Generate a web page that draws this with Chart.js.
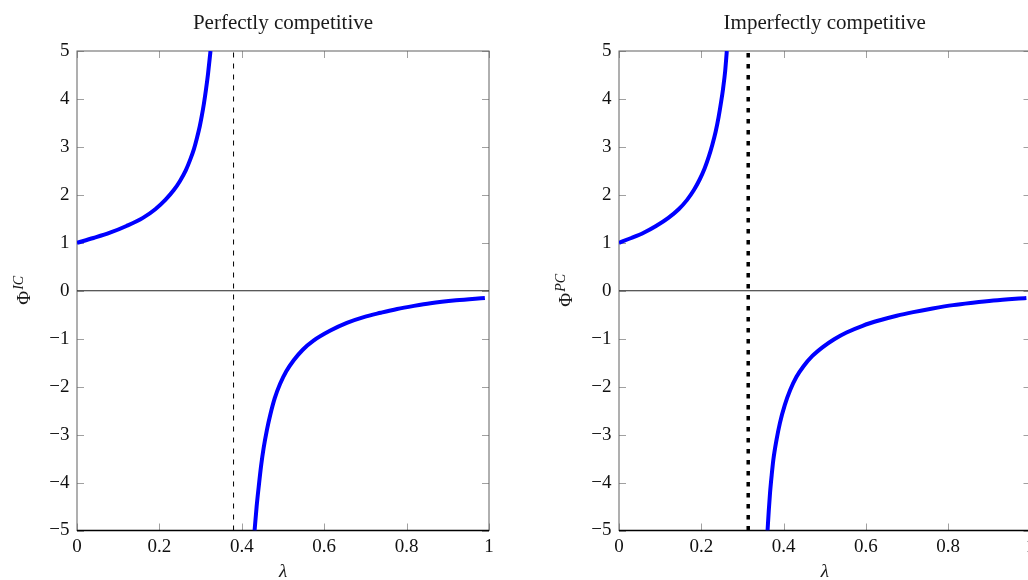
<!DOCTYPE html>
<html>
<head>
<meta charset="utf-8">
<script src="https://cdn.jsdelivr.net/npm/chart.js@4.4.1/dist/chart.umd.min.js"></script>
<style>
  body { margin: 0; width: 1028px; height: 580px; overflow: hidden; background: #fff; position: relative; }
  canvas { position: absolute; top: 0; }
  #pc { left: 0; }
  #ic { left: 540px; }
</style>
</head>
<body>
<canvas id="pc" width="540" height="580"></canvas>
<canvas id="ic" width="540" height="580"></canvas>
<script>
// tick values
const xTicks = [0, 0.2, 0.4, 0.6, 0.8, 1];
const yTicks = [-5, -4, -3, -2, -1, 0, 1, 2, 3, 4, 5];

// left panel: perfectly competitive (Phi^IC)
const pcLamUp  = [0, 0.04, 0.08, 0.12, 0.16, 0.19, 0.215, 0.235, 0.250, 0.264, 0.275, 0.284, 0.291, 0.298, 0.303, 0.308, 0.313, 0.318, 0.324];
const pcPhiUp  = [1, 1.10, 1.21, 1.35, 1.52, 1.70, 1.90, 2.10, 2.29, 2.51, 2.74, 2.96, 3.18, 3.43, 3.65, 3.90, 4.19, 4.52, 5];
const pcLamLow = [0.431, 0.436, 0.441, 0.447, 0.453, 0.461, 0.469, 0.480, 0.493, 0.508, 0.526, 0.548, 0.574, 0.615, 0.655, 0.696, 0.737, 0.777, 0.818, 0.858, 0.92, 0.99];
const pcPhiLow = [-5, -4.50, -4.09, -3.64, -3.28, -2.90, -2.59, -2.24, -1.94, -1.68, -1.45, -1.23, -1.04, -0.83, -0.67, -0.55, -0.46, -0.38, -0.315, -0.26, -0.20, -0.15];
const pcAsym   = [0.38, 0.38];

// right panel: imperfectly competitive (Phi^PC)
const icLamUp  = [0, 0.03, 0.06, 0.09, 0.12, 0.145, 0.165, 0.182, 0.196, 0.208, 0.218, 0.227, 0.235, 0.242, 0.248, 0.253, 0.258, 0.262];
const icPhiUp  = [1, 1.10, 1.21, 1.35, 1.52, 1.70, 1.89, 2.10, 2.32, 2.55, 2.79, 3.05, 3.32, 3.62, 3.93, 4.22, 4.58, 5];
const icLamLow = [0.361, 0.364, 0.367, 0.371, 0.375, 0.383, 0.391, 0.403, 0.416, 0.431, 0.448, 0.470, 0.496, 0.523, 0.553, 0.592, 0.634, 0.675, 0.715, 0.762, 0.812, 0.860, 0.910, 0.99];
const icPhiLow = [-5, -4.58, -4.22, -3.85, -3.53, -3.10, -2.76, -2.38, -2.07, -1.80, -1.58, -1.36, -1.17, -1.01, -0.87, -0.73, -0.615, -0.52, -0.445, -0.37, -0.30, -0.25, -0.205, -0.15];
const icAsym   = [0.314, 0.314];

const asymPhi = [-5, 5];
const zeroLam = [0, 1];
const zeroPhi = [0, 0];

const serif = '"Liberation Serif", "Times New Roman", serif';
const pts = (xs, ys) => xs.map((x, i) => ({ x: x, y: ys[i] }));

// frame with inward ticks + title / axis labels
const decor = {
  id: 'decor',
  beforeDatasetsDraw(chart, args, opts) {
    const ctx = chart.ctx, a = chart.chartArea;
    const x = chart.scales.x, y = chart.scales.y;
    ctx.save();
    ctx.lineWidth = 1;
    ctx.strokeStyle = '#a0a0a0';
    ctx.beginPath();
    x.ticks.forEach(t => {
      const px = Math.round(x.getPixelForValue(t.value)) + 0.5;
      ctx.moveTo(px, a.bottom); ctx.lineTo(px, a.bottom - 7);
      ctx.moveTo(px, a.top); ctx.lineTo(px, a.top + 7);
    });
    y.ticks.forEach(t => {
      const py = Math.round(y.getPixelForValue(t.value)) + 0.5;
      ctx.moveTo(a.left, py); ctx.lineTo(a.left + 7, py);
      ctx.moveTo(a.right, py); ctx.lineTo(a.right - 7, py);
    });
    ctx.stroke();
    ctx.strokeStyle = '#606060';
    ctx.strokeRect(a.left, a.top, a.right - a.left, a.bottom - a.top);
    ctx.strokeStyle = '#000';
    ctx.lineWidth = 1.5;
    ctx.beginPath();
    ctx.moveTo(a.left, a.bottom); ctx.lineTo(a.right, a.bottom);
    ctx.stroke();
    ctx.restore();
  },
  afterDraw(chart, args, opts) {
    const ctx = chart.ctx, a = chart.chartArea;
    const cx = (a.left + a.right) / 2, cy = (a.top + a.bottom) / 2;
    ctx.save();
    ctx.fillStyle = '#1a1a1a';
    ctx.textAlign = 'center';
    ctx.textBaseline = 'alphabetic';
    ctx.font = '21px ' + serif;
    ctx.fillText(opts.title, cx, 29);
    ctx.font = 'italic 19px ' + serif;
    ctx.fillText('λ', cx, 577);
    // rotated y label with superscript
    ctx.translate(a.left - 47, cy);
    ctx.rotate(-Math.PI / 2);
    ctx.textAlign = 'left';
    ctx.font = '19px ' + serif;
    const w1 = ctx.measureText('Φ').width;
    ctx.font = 'italic 14px ' + serif;
    const w2 = ctx.measureText(opts.sup).width;
    const x0 = -(w1 + w2) / 2;
    ctx.font = '19px ' + serif;
    ctx.fillText('Φ', x0, 0);
    ctx.font = 'italic 14px ' + serif;
    ctx.fillText(opts.sup, x0 + w1 + 1, -7);
    ctx.restore();
  }
};

function makeChart(id, p) {
  const curve = (xs, ys) => ({
    data: pts(xs, ys),
    borderColor: '#0000ff',
    borderWidth: 4,
    borderJoinStyle: 'round',
    cubicInterpolationMode: 'monotone',
    pointRadius: 0
  });
  return new Chart(document.getElementById(id), {
    type: 'line',
    data: {
      datasets: [
        curve(p.lamUp, p.phiUp),
        curve(p.lamLow, p.phiLow),
        {
          data: pts(p.asym, asymPhi),
          borderColor: '#000',
          borderWidth: p.asymWidth,
          borderDash: p.asymDash,
          pointRadius: 0
        },
        {
          data: pts(zeroLam, zeroPhi),
          borderColor: '#222',
          borderWidth: 1,
          pointRadius: 0
        }
      ]
    },
    options: {
      responsive: false,
      animation: false,
      events: [],
      layout: { padding: { left: 0, top: 51, right: p.padRight, bottom: 0 } },
      plugins: {
        legend: { display: false },
        tooltip: { enabled: false },
        title: { display: false },
        decor: { title: p.title, sup: p.sup }
      },
      scales: {
        x: {
          type: 'linear',
          min: 0, max: 1,
          afterBuildTicks: s => { s.ticks = xTicks.map(v => ({ value: v })); },
          afterFit: s => { s.height = 49.5; },
          grid: { display: false, drawTicks: false },
          border: { display: false },
          ticks: {
            padding: 5,
            color: '#111',
            font: { family: serif, size: 19 },
            callback: v => String(Math.round(v * 10) / 10)
          }
        },
        y: {
          type: 'linear',
          min: -5, max: 5,
          afterBuildTicks: s => { s.ticks = yTicks.map(v => ({ value: v })); },
          afterFit: s => { s.width = p.yWidth; },
          grid: { display: false, drawTicks: false },
          border: { display: false },
          ticks: {
            padding: 7.5,
            color: '#111',
            font: { family: serif, size: 19 },
            callback: v => (v < 0 ? '\u2212' + Math.abs(v) : String(v))
          }
        }
      }
    },
    plugins: [decor]
  });
}

makeChart('pc', {
  title: 'Perfectly competitive', sup: 'IC',
  lamUp: pcLamUp, phiUp: pcPhiUp, lamLow: pcLamLow, phiLow: pcPhiLow,
  asym: pcAsym, asymWidth: 1, asymDash: [5, 6],
  yWidth: 77, padRight: 51
});
makeChart('ic', {
  title: 'Imperfectly competitive', sup: 'PC',
  lamUp: icLamUp, phiUp: icPhiUp, lamLow: icLamLow, phiLow: icPhiLow,
  asym: icAsym, asymWidth: 3.5, asymDash: [4.5, 6.5],
  yWidth: 79, padRight: 49.5
});
</script>
</body>
</html>
